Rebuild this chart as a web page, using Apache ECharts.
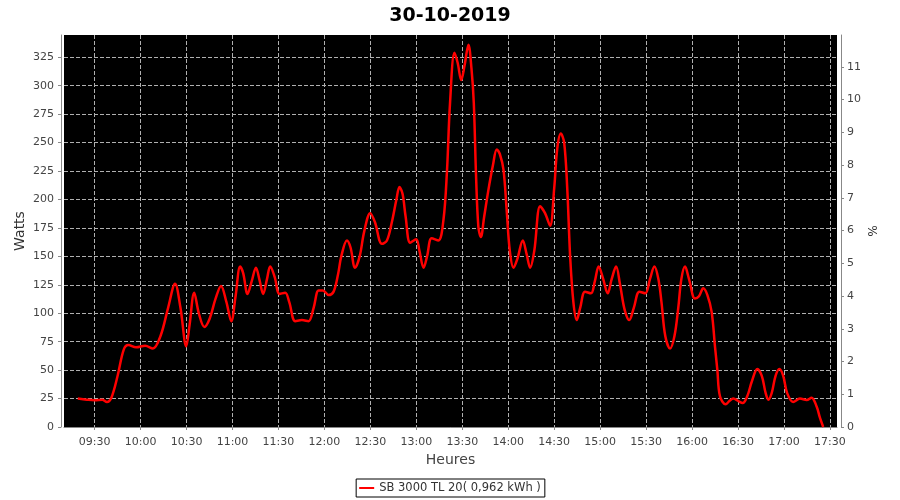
<!DOCTYPE html>
<html>
<head>
<meta charset="utf-8">
<script src="https://cdn.jsdelivr.net/npm/echarts@6/dist/echarts.min.js"></script>
<style>html,body{margin:0;padding:0;background:#fff}#c{width:900px;height:500px}</style>
</head>
<body>
<div id="c"></div>
<script>
// time in minutes since midnight
var times = [559,565,570,575,578,581,585,589,592,597,603,608,613,618,622.5,626,629.8,632,635,638,641.6,645,649,652.5,656,659.2,662,665,667,669.8,672.5,675.3,677.5,680,682.5,684.6,687.5,690.7,694.4,697,701,705.3,709.6,713,716.2,719,722.7,726,729,731,734.7,737,740,743,746,749.9,753,757.5,760.8,764,767,769,771,773,776,779.9,782,784.7,787,790,794.4,797.7,800,802,804.9,807,809.3,811.5,814,816,817.5,819,820.5,822.1,824.3,827,830,832.5,834.5,836.9,839,841,843.4,846,849.5,852,854.3,857,860.8,864,867.3,870,872,874.3,876.5,878.5,880.4,882.5,884.7,887,890.1,894,896.5,899,902,904.9,907.5,910.4,913,916,919,922,925.6,929.5,932.5,935.4,938,940,942.5,945.6,948.5,951,953,955.4,958,961.9,964.5,967.3,970,972.8,975,976.5,978.2,981.9,984.5,986.9,990,993,996,999,1002.6,1005.5,1008,1009.8,1012,1014.5,1017,1019.5,1022,1026,1030.4,1034.8,1038,1041.3,1043.5,1045.6];
var watts = [25,24,23.5,24,22,26,45,68,72,70,71.5,69,80,105,126,105,71,90,118,100,88,95,113,124,110,93,115,141,135,117,128,140,130,117,130,141,132,117,118,110,93,94,93,105,120,120,116,119,135,150,164,158,140,150,172,188,180,161,164,180,200,211,205,185,162,165,155,140,150,166,164,182,225,285,329,320,305,318,336,315,285,220,176,167,185,208,230,244,240,226,190,155,140,148,164,152,140,155,194,188,177,210,245,258,250,210,150,110,94,105,119,117.5,128,141,130,117.5,130,141,125,103,94,105,119,117.5,130,141,130,110,80,69,80,105,130,141,130,113,115,122,116,101,70,50,27,20,23,25,23,21,27,40,51,45,30,24,30,45,51,45,30,22,25,23.7,25.8,18,8,0];
var xTicks = [570,600,630,660,690,720,750,780,810,840,870,900,930,960,990,1020,1050];
var titleText = '30-10-2019';
var seriesName = 'SB 3000 TL 20( 0,962 kWh )';

function hhmm(m){var h=Math.floor(m/60),mm=Math.round(m%60);return (h<10?'0':'')+h+':'+(mm<10?'0':'')+mm;}
var data = times.map(function(t,i){return [t,watts[i]];});
var F = 'DejaVu Sans';
var grid = {type:'dashed',color:'#b0b0b0',width:1};
var chart = echarts.init(document.getElementById('c'));
chart.setOption({
  animation:false,
  backgroundColor:'#ffffff',
  title:{text:titleText,left:'center',top:2,textStyle:{fontFamily:F,fontSize:19,fontWeight:'bold',color:'#000'}},
  grid:{left:64,right:63,top:35,bottom:73,show:true,backgroundColor:'#000000',borderWidth:0,containLabel:false,outerBoundsMode:'none'},
  legend:{bottom:3,left:'center',data:[seriesName],icon:'rect',itemWidth:15,itemHeight:2,borderColor:'#000',borderWidth:1,padding:[3,4,3,3],borderRadius:0,
    textStyle:{fontFamily:F,fontSize:11.5,color:'#333'}},
  xAxis:{type:'value',min:550,max:1054.6,offset:3,
    name:'Heures',nameLocation:'middle',nameGap:23,nameMoveOverlap:false,nameTextStyle:{fontFamily:F,fontSize:14,color:'#444'},
    axisLine:{show:true,lineStyle:{color:'#888'}},
    axisTick:{show:true,length:3,customValues:xTicks,lineStyle:{color:'#888'}},
    axisLabel:{customValues:xTicks,margin:7,fontFamily:F,fontSize:11,color:'#444',formatter:function(v){return hhmm(v);}},
    splitLine:{show:true,lineStyle:grid}},
  yAxis:[
    {type:'value',min:0,max:344.6,interval:25,offset:3,position:'left',
     name:'Watts',nameLocation:'middle',nameGap:34,nameRotate:90,nameMoveOverlap:false,nameTextStyle:{fontFamily:F,fontSize:14,color:'#333'},
     axisLine:{show:true,lineStyle:{color:'#888'}},
     axisTick:{show:true,length:3,lineStyle:{color:'#888'}},
     axisLabel:{margin:7,fontFamily:F,fontSize:11,color:'#444',showMaxLabel:false},
     splitLine:{show:true,showMaxLine:false,lineStyle:grid}},
    {type:'value',min:0,max:11.97,interval:1,offset:4,position:'right',
     name:'%',nameLocation:'middle',nameGap:24,nameRotate:-90,nameMoveOverlap:false,nameTextStyle:{fontFamily:F,fontSize:12,color:'#333'},
     axisLine:{show:true,lineStyle:{color:'#888'}},
     axisTick:{show:true,length:3,lineStyle:{color:'#888'}},
     axisLabel:{margin:6,fontFamily:F,fontSize:11,color:'#444',showMaxLabel:false},
     splitLine:{show:false}}
  ],
  series:[{name:seriesName,type:'line',yAxisIndex:0,data:data,showSymbol:false,smooth:0.35,
    lineStyle:{color:'#ff0000',width:2.5},itemStyle:{color:'#ff0000'}}]
});
</script>
</body>
</html>
